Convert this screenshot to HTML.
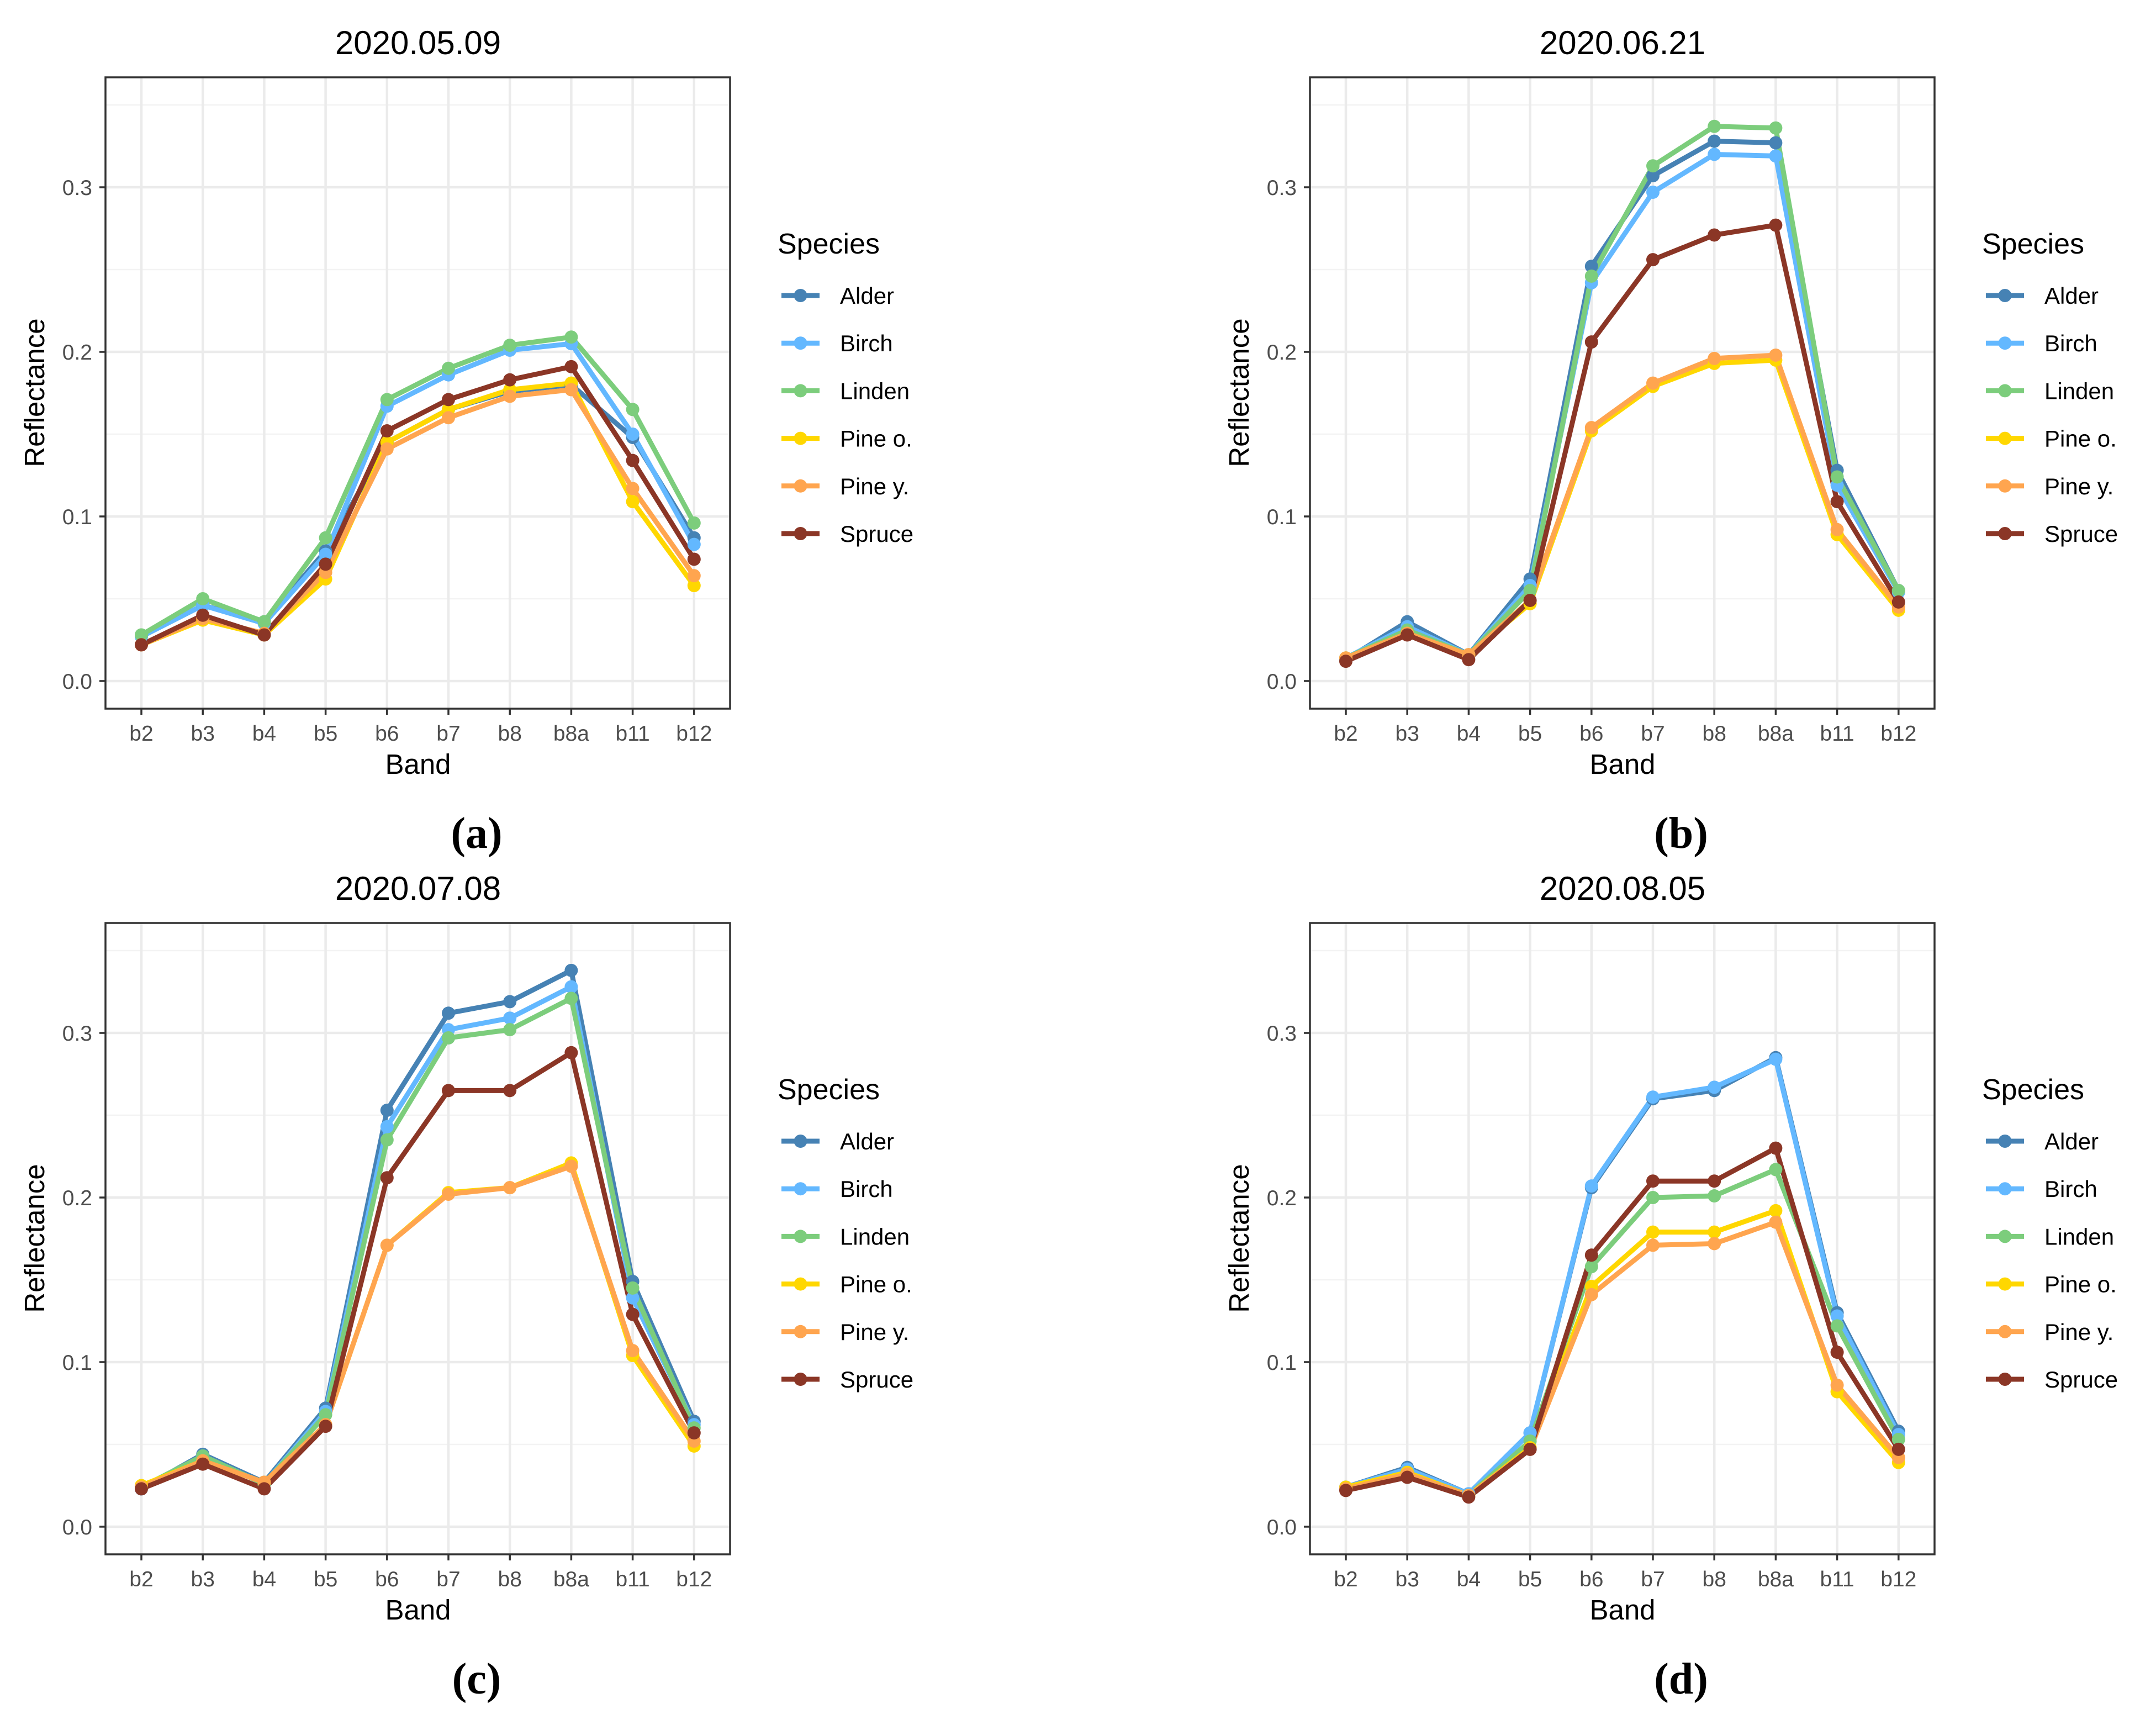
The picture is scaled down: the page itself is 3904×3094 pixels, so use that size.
<!DOCTYPE html>
<html><head><meta charset="utf-8">
<style>
html,body{margin:0;padding:0;background:#fff;}
svg{display:block;font-family:"Liberation Sans",Arial,sans-serif;}
</style></head>
<body>
<svg id="fig" width="3904" height="3094" viewBox="0 0 3904 3094" xmlns="http://www.w3.org/2000/svg"></svg>
<script>
const bands = ["b2","b3","b4","b5","b6","b7","b8","b8a","b11","b12"];
const species = ["Alder","Birch","Linden","Pine o.","Pine y.","Spruce"];
const colors = ["#4682B4","#63B8FF","#7CCD7C","#FFD700","#FFA54F","#8B3626"];
const yTicks = [0.0,0.1,0.2,0.3];
const yTickLabels = ["0.0","0.1","0.2","0.3"];
const titles = ["2020.05.09","2020.06.21","2020.07.08","2020.08.05"];
const panelLabels = ["(a)","(b)","(c)","(d)"];
// panel a
const aAlder  = [0.027,0.046,0.036,0.079,0.145,0.165,0.176,0.180,0.148,0.087];
const aBirch  = [0.027,0.046,0.035,0.077,0.167,0.186,0.201,0.205,0.150,0.083];
const aLinden = [0.028,0.050,0.036,0.087,0.171,0.190,0.204,0.209,0.165,0.096];
const aPineO  = [0.022,0.037,0.028,0.062,0.145,0.165,0.177,0.181,0.109,0.058];
const aPineY  = [0.022,0.038,0.029,0.066,0.141,0.160,0.173,0.177,0.117,0.064];
const aSpruce = [0.022,0.040,0.028,0.071,0.152,0.171,0.183,0.191,0.134,0.074];
// panel b
const bAlder  = [0.013,0.036,0.016,0.062,0.252,0.307,0.328,0.327,0.128,0.055];
const bBirch  = [0.014,0.033,0.016,0.058,0.242,0.297,0.320,0.319,0.119,0.054];
const bLinden = [0.014,0.031,0.016,0.055,0.246,0.313,0.337,0.336,0.124,0.055];
const bPineO  = [0.014,0.029,0.016,0.047,0.152,0.179,0.193,0.195,0.089,0.043];
const bPineY  = [0.014,0.029,0.016,0.049,0.154,0.181,0.196,0.198,0.092,0.045];
const bSpruce = [0.012,0.028,0.013,0.049,0.206,0.256,0.271,0.277,0.109,0.048];
// panel c
const cAlder  = [0.023,0.044,0.027,0.072,0.253,0.312,0.319,0.338,0.149,0.064];
const cBirch  = [0.023,0.043,0.026,0.070,0.243,0.302,0.309,0.328,0.139,0.062];
const cLinden = [0.024,0.043,0.026,0.068,0.235,0.297,0.302,0.321,0.145,0.060];
const cPineO  = [0.025,0.040,0.027,0.062,0.171,0.203,0.206,0.221,0.104,0.049];
const cPineY  = [0.024,0.040,0.027,0.062,0.171,0.202,0.206,0.219,0.107,0.052];
const cSpruce = [0.023,0.038,0.023,0.061,0.212,0.265,0.265,0.288,0.129,0.057];
// panel d
const dAlder  = [0.024,0.036,0.020,0.057,0.206,0.260,0.265,0.285,0.130,0.058];
const dBirch  = [0.024,0.035,0.020,0.057,0.207,0.261,0.267,0.284,0.128,0.056];
const dLinden = [0.023,0.033,0.019,0.052,0.158,0.200,0.201,0.217,0.122,0.053];
const dPineO  = [0.024,0.033,0.019,0.048,0.146,0.179,0.179,0.192,0.082,0.039];
const dPineY  = [0.023,0.032,0.019,0.047,0.141,0.171,0.172,0.185,0.086,0.042];
const dSpruce = [0.022,0.030,0.018,0.047,0.165,0.210,0.210,0.230,0.106,0.047];

const panelData = [
  [aAlder,aBirch,aLinden,aPineO,aPineY,aSpruce],
  [bAlder,bBirch,bLinden,bPineO,bPineY,bSpruce],
  [cAlder,cBirch,cLinden,cPineO,cPineY,cSpruce],
  [dAlder,dBirch,dLinden,dPineO,dPineY,dSpruce]
];

const NS="http://www.w3.org/2000/svg";
const svg=document.getElementById('fig');
function mk(tag,attrs,parent){const e=document.createElementNS(NS,tag);for(const k in attrs)e.setAttribute(k,attrs[k]);(parent||svg).appendChild(e);return e;}

const offsets=[[0,0],[2181,0],[0,1531],[2181,1531]];
const L=191,R=1322,T=140,B=1283;
const yMin=-0.0168,yMax=0.3668;
const x0=256,xStep=111.2;

offsets.forEach((off,p)=>{
  const [ox,oy]=off;
  const g=mk('g',{transform:`translate(${ox},${oy})`});
  
  
  const X=i=>x0+i*xStep;
  const Y=v=>B-(v-yMin)/(yMax-yMin)*(B-T);
  // minor grid
  [0.05,0.15,0.25,0.35].forEach(v=>{
    const l=mk('line',{x1:L,x2:R,y1:Y(v),y2:Y(v),stroke:'#F3F3F3','stroke-width':2.5},g);
    
    
  });
  yTicks.forEach(v=>{
    const l=mk('line',{x1:L,x2:R,y1:Y(v),y2:Y(v),stroke:'#EBEBEB','stroke-width':4.5},g);
    
    
  });
  bands.forEach((b,i)=>{
    const l=mk('line',{x1:X(i),x2:X(i),y1:T,y2:B,stroke:'#EBEBEB','stroke-width':4.5},g);
    
    
  });
  // series lines
  panelData[p].forEach((vals,s)=>{
    const pts=vals.map((v,i)=>X(i)+','+Y(v)).join(' ');
    const pl=mk('polyline',{points:pts,fill:'none',stroke:colors[s],'stroke-width':9,'stroke-linejoin':'round'},g);
    
    
  });
  panelData[p].forEach((vals,s)=>{
    vals.forEach((v,i)=>{
      const c=mk('circle',{cx:X(i),cy:Y(v),r:12,fill:colors[s]},g);
      
      
    });
  });
  // border
  const br=mk('rect',{x:L,y:T,width:R-L,height:B-T,fill:'none',stroke:'#333333','stroke-width':3.5},g);
  
  
  // y ticks
  yTicks.forEach((v,i)=>{
    const t=mk('line',{x1:L-11,x2:L,y1:Y(v),y2:Y(v),stroke:'#333','stroke-width':3.5},g);
    
    
    const tx=mk('text',{x:L-24,y:Y(v)+14,'text-anchor':'end','font-size':39,fill:'#4D4D4D'},g);
    tx.textContent=yTickLabels[i];
    
    
  });
  bands.forEach((b,i)=>{
    const t=mk('line',{x1:X(i),x2:X(i),y1:B,y2:B+11,stroke:'#333','stroke-width':3.5},g);
    
    
    const tx=mk('text',{x:X(i),y:1341,'text-anchor':'middle','font-size':39,fill:'#4D4D4D'},g);
    tx.textContent=b;
    
    
  });
  const xt=mk('text',{x:757,y:1401,'text-anchor':'middle','font-size':51,fill:'#000'},g);
  xt.textContent='Band';
  
  
  const yt=mk('text',{x:0,y:0,'text-anchor':'middle','font-size':51,fill:'#000',transform:`translate(80,711) rotate(-90)`},g);
  yt.textContent='Reflectance';
  
  
  const tt=mk('text',{x:757,y:98,'text-anchor':'middle','font-size':60,fill:'#000'},g);
  tt.textContent=titles[p];
  
  
  const pl=mk('text',{x:863,y:1535,'text-anchor':'middle','font-size':80,'font-weight':'bold','font-family':'"Liberation Serif",serif',fill:'#000'},g);
  pl.textContent=panelLabels[p];
  
  
  // legend
  const lt=mk('text',{x:1408,y:459,'font-size':52,fill:'#000'},g);
  lt.textContent='Species';
  
  
  species.forEach((sp,s)=>{
    const cy=535+s*86.2;
    const kl=mk('line',{x1:1415,x2:1484,y1:cy,y2:cy,stroke:colors[s],'stroke-width':9},g);
    
    
    const kc=mk('circle',{cx:1449.5,cy:cy,r:12,fill:colors[s]},g);
    
    
    const kt=mk('text',{x:1521,y:cy+15,'font-size':42,fill:'#000'},g);
    kt.textContent=sp;
    
    
  });
});
</script>
</body></html>
